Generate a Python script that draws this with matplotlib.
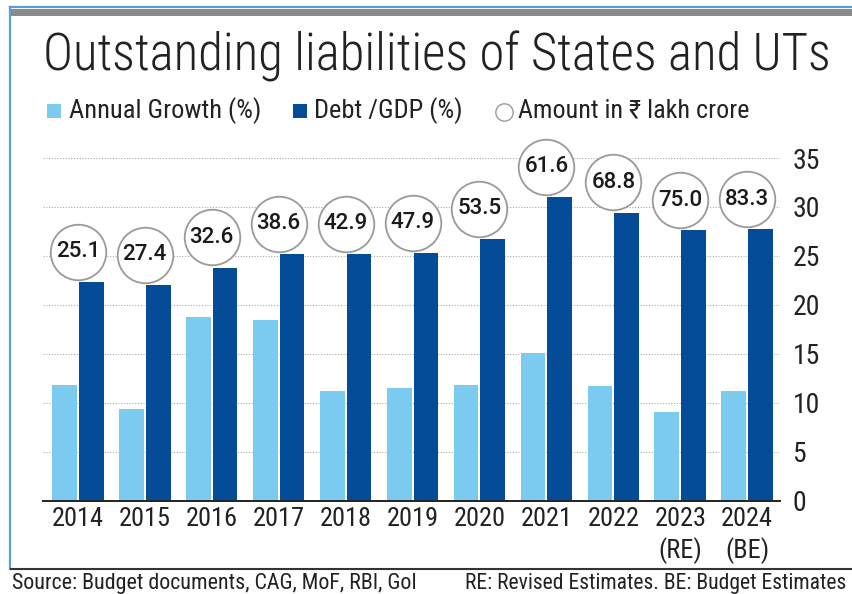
import numpy as np
import matplotlib.pyplot as plt
from matplotlib.lines import Line2D
from matplotlib.patches import Rectangle

# data
years = ['2014', '2015', '2016', '2017', '2018', '2019', '2020', '2021', '2022',
         '2023\n(RE)', '2024\n(BE)']
growth = [11.8, 9.3, 18.8, 18.4, 11.2, 11.5, 11.8, 15.1, 11.7, 9.0, 11.2]
debt_gdp = [22.3, 22.0, 23.8, 25.2, 25.2, 25.3, 26.7, 31.0, 29.4, 27.6, 27.7]
amount = ['25.1', '27.4', '32.6', '38.6', '42.9', '47.9', '53.5', '61.6', '68.8', '75.0', '83.3']

light = '#7BCBF0'
dark = '#044C98'
cond = ['Roboto Condensed', 'DejaVu Sans']
txtc = '#222222'

fig = plt.figure(figsize=(8.52, 5.94), dpi=100)
W, H = 852, 594

def fx(px):
    return px / W

def fy(py):
    return 1 - py / H

# frame decorations
fig.add_artist(Line2D([fx(10), 1], [fy(7), fy(7)], color='#5B9BE0', lw=1.6))
fig.add_artist(Rectangle((fx(11), fy(16)), 1, fy(9) - fy(16), color='#8A8A8A', lw=0))
fig.add_artist(Line2D([fx(10), fx(10)], [fy(7), fy(569)], color='#5B9BE0', lw=1.6))
fig.add_artist(Line2D([fx(11), 1], [fy(569), fy(569)], color='#333333', lw=1.5))

# title + legend
fig.text(fx(43), fy(56), 'Outstanding liabilities of States and UTs', fontsize=36.5,
         family=['Roboto Condensed'], fontweight='light',
         color=txtc, va='center', ha='left')
fig.add_artist(Rectangle((fx(47), fy(118)), fx(14), fy(104) - fy(118), color=light, lw=0))
fig.text(fx(69), fy(111), 'Annual Growth (%)', fontsize=19, family=cond,
         color=txtc, va='center')
fig.add_artist(Rectangle((fx(293), fy(118)), fx(14), fy(104) - fy(118), color=dark, lw=0))
fig.text(fx(314), fy(111), 'Debt /GDP (%)', fontsize=19, family=cond,
         color=txtc, va='center')
fig.add_artist(Line2D([fx(504)], [fy(112)], marker='o', ms=12.5, mfc='white',
                      mec='#9A9A9A', mew=1.0))
fig.text(fx(518), fy(111), 'Amount in ₹ lakh crore', fontsize=18.7, family=cond,
         color=txtc, va='center')

# source line
fig.text(fx(12), fy(583), 'Source: Budget documents, CAG, MoF, RBI, GoI', fontsize=15.8,
         family=cond, color=txtc, va='center')
fig.text(fx(465), fy(583), 'RE: Revised Estimates. BE: Budget Estimates', fontsize=15.6,
         family=cond, color=txtc, va='center')

ax = fig.add_axes([fx(43), fy(500.5), fx(780) - fx(43), fy(158) - fy(500.5)])
x = np.arange(len(years))
bw = 0.37
ax.bar(x - 0.2, growth, bw, color=light, zorder=2)
ax.bar(x + 0.2, debt_gdp, bw, color=dark, zorder=2)

# bubbles with amounts
for i, (d, a) in enumerate(zip(debt_gdp, amount)):
    ax.scatter(i, d + 3.1, s=1600, facecolor='white', edgecolor='#9A9A9A',
               linewidth=1.3, zorder=3, clip_on=False)
    ax.text(i, d + 3.1, a, ha='center', va='center', fontsize=16,
            family=['Roboto'], fontweight='medium', color='#1A1A1A', zorder=4)

ax.set_xlim(-0.52, 10.49)
ax.set_ylim(0, 35)
ax.set_yticks(np.arange(0, 36, 5))
ax.yaxis.tick_right()
ax.set_xticks(x)
ax.set_xticklabels(years, linespacing=1.25)
ax.tick_params(axis='both', length=0, colors=txtc)
ax.tick_params(axis='y', pad=9, labelsize=20)
ax.tick_params(axis='x', pad=5, labelsize=19)
for lab in ax.get_xticklabels() + ax.get_yticklabels():
    lab.set_family(cond)
ax.grid(axis='y', linestyle=(0, (1, 1.5)), color='#AAAAAA', lw=0.8, zorder=0)
for s in ['top', 'right', 'left']:
    ax.spines[s].set_visible(False)
ax.spines['bottom'].set_color('#222222')
ax.spines['bottom'].set_linewidth(1.4)

plt.savefig('out.png', dpi=100)
plt.close()
